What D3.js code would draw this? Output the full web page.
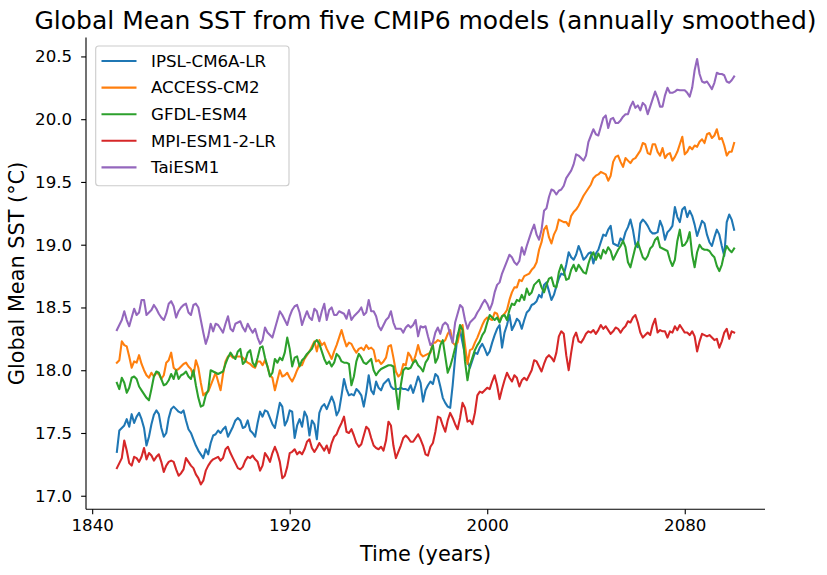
<!DOCTYPE html>
<html>
<head>
<meta charset="utf-8">
<script src="https://cdn.jsdelivr.net/npm/d3@7"></script>
<style>
  html, body { margin: 0; padding: 0; background: #ffffff; }
  svg { display: block; font-family: "DejaVu Sans", sans-serif; }
</style>
</head>
<body>
<svg id="chart" width="827" height="575"></svg>
<script>
// ---------------- DATA ----------------
const firstYear = 1850;
const lastYear = 2100;
const models = ["IPSL-CM6A-LR", "ACCESS-CM2", "GFDL-ESM4", "MPI-ESM1-2-LR", "TaiESM1"];
const xTickValues = [1840, 1920, 2000, 2080];
const yTickValues = [17.0, 17.5, 18.0, 18.5, 19.0, 19.5, 20.0, 20.5];

const ipsl = [
  17.35,17.52,17.54,17.56,17.61,17.55,17.65,17.58,17.63,17.66,
  17.61,17.54,17.40,17.47,17.57,17.645,17.68,17.65,17.54,17.47,
  17.50,17.62,17.69,17.71,17.69,17.67,17.66,17.68,17.60,17.53,
  17.50,17.45,17.40,17.36,17.33,17.30,17.37,17.33,17.42,17.48,
  17.49,17.52,17.50,17.53,17.55,17.47,17.51,17.55,17.60,17.62,
  17.60,17.54,17.55,17.60,17.52,17.50,17.47,
  17.58,17.67,17.63,
  17.68,17.67,17.62,17.57,17.54,17.64,17.74,17.71,17.56,17.60,
  17.68,17.67,17.46,17.56,17.61,17.55,17.67,17.63,17.48,17.60,
  17.57,17.45,17.66,17.71,17.73,17.69,17.74,17.79,17.74,17.64,
  17.68,17.80,17.93,17.85,17.80,17.81,17.80,17.85,17.83,17.80,
  17.71,17.82,17.96,17.84,17.81,17.91,17.86,17.84,17.89,17.91,
  17.93,17.87,17.85,
  17.85,17.85,17.86,17.85,17.85,17.84,17.88,
  17.82,17.88,17.95,17.90,17.75,17.84,17.88,17.91,17.89,17.97,
  17.95,17.87,17.78,17.74,17.71,17.70,17.88,18.10,18.28,18.32,
  18.22,18.12,18.07,18.02,18.08,18.14,18.13,18.18,18.21,18.17,
  18.12,18.15,18.22,18.28,18.33,18.36,18.18,18.30,18.36,18.44,
  18.32,18.36,18.41,18.39,18.33,18.40,18.46,18.48,18.52,18.53,
  18.55,18.60,18.58,18.68,18.70,18.63,18.56,18.60,18.67,18.73,
  18.77,18.76,18.84,18.94,18.90,18.88,18.92,18.99,18.94,18.88,
  18.90,18.93,18.94,18.85,18.93,18.96,19.02,19.08,19.07,19.12,
  19.15,19.01,19.00,18.99,19.05,19.03,19.10,19.14,19.20,19.12,
  19.00,18.98,19.17,19.20,19.18,19.15,19.11,19.09,
  19.09,19.10,
  19.19,19.14,19.04,19.10,19.12,19.15,19.30,19.22,19.18,19.28,
  19.30,19.22,19.27,19.23,19.16,19.07,19.13,19.19,19.17,19.08,
  19.02,18.99,19.06,19.12,19.08,18.99,18.91,19.18,19.24,19.20,
  19.12
];

const access = [
  18.06,18.08,18.23,18.20,18.19,18.11,18.02,18.07,18.06,18.12,
  18.05,18.00,17.96,17.94,17.98,17.95,17.98,17.97,17.93,17.96,
  18.06,18.08,18.14,18.02,18.00,18.01,18.03,18.05,18.06,18.03,
  18.01,17.95,18.08,18.02,17.90,17.80,17.82,17.83,17.88,17.93,
  17.98,17.91,17.84,17.97,18.07,18.11,18.12,18.10,18.11,18.11,
  18.11,18.10,18.08,18.06,18.05,18.03,18.02,
  18.07,18.07,18.04,
  18.08,18.03,17.96,17.94,17.84,17.92,18.00,17.95,17.96,17.98,
  17.94,17.91,17.95,18.00,18.04,18.04,18.09,18.12,18.15,18.19,
  18.23,18.15,18.24,18.20,18.22,18.17,18.13,18.09,18.15,18.20,
  18.26,18.32,18.25,18.19,18.22,18.21,18.17,18.14,18.17,18.18,
  18.16,18.20,18.17,18.18,18.16,18.07,18.08,18.05,18.07,18.10,
  18.19,18.20,18.10,
  17.99,17.95,17.97,18.05,18.04,18.14,18.11,
  18.06,18.12,18.20,18.13,18.11,18.12,18.13,18.14,18.22,18.22,
  18.24,18.23,18.22,18.24,18.29,18.32,18.22,18.20,18.22,18.32,
  18.36,18.20,18.05,18.16,18.17,18.22,18.26,18.31,18.36,18.40,
  18.42,18.41,18.40,18.46,18.45,18.39,18.43,18.45,18.48,18.56,
  18.62,18.66,18.66,18.72,18.71,18.75,18.76,18.77,18.80,18.82,
  18.86,18.96,19.02,19.12,19.15,19.06,19.01,19.08,19.12,19.20,
  19.19,19.18,19.18,19.15,19.23,19.26,19.28,19.31,19.35,19.39,
  19.42,19.45,19.48,19.53,19.55,19.56,19.58,19.57,19.56,19.51,
  19.55,19.66,19.70,19.71,19.66,19.62,19.69,19.67,19.65,19.68,
  19.69,19.72,19.75,19.81,19.80,19.73,19.72,19.80,
  19.80,19.74,
  19.71,19.77,19.69,19.72,19.73,19.67,19.70,19.74,19.80,19.86,
  19.72,19.74,19.78,19.76,19.79,19.78,19.82,19.84,19.81,19.88,
  19.89,19.85,19.87,19.92,19.84,19.85,19.79,19.71,19.74,19.74,
  19.81
];

const gfdl = [
  17.90,17.85,17.94,17.90,17.82,17.86,17.94,17.95,17.93,17.87,
  17.84,17.81,17.78,17.76,17.85,17.95,17.99,17.98,17.93,17.88,
  17.89,17.92,17.97,17.93,18.00,17.93,17.96,17.97,17.99,17.95,
  17.93,18.00,17.88,17.78,17.71,17.72,17.80,17.84,18.00,17.99,
  17.98,17.97,17.98,17.99,18.05,18.10,18.14,18.11,18.09,18.15,
  18.17,18.05,18.07,18.14,18.16,18.06,18.03,
  18.10,18.18,18.19,
  18.10,18.03,17.95,17.98,18.09,18.06,18.10,18.08,18.14,18.26,
  18.17,18.03,18.10,18.11,18.03,18.08,18.10,18.13,18.15,18.17,
  18.22,18.24,18.21,18.15,18.09,18.05,18.07,18.03,18.06,18.13,
  18.11,18.07,18.06,18.06,18.05,17.88,17.95,18.07,18.13,18.10,
  18.06,18.05,18.07,18.09,18.00,17.96,17.99,18.01,18.02,18.03,
  18.04,18.04,18.03,
  17.85,17.69,17.88,18.00,18.02,18.01,18.02,
  18.06,18.08,18.04,18.02,17.99,18.06,18.09,18.15,18.20,18.06,
  18.10,18.20,18.24,18.11,17.98,18.03,18.10,18.18,18.27,18.36,
  18.32,18.07,17.92,18.04,18.10,18.16,18.20,18.23,18.28,18.31,
  18.38,18.44,18.42,18.40,18.42,18.38,18.43,18.44,18.40,18.48,
  18.53,18.52,18.56,18.55,18.60,18.56,18.65,18.60,18.62,18.68,
  18.70,18.72,18.66,18.62,18.68,18.73,18.74,18.67,18.66,18.78,
  18.84,18.79,18.72,18.73,18.80,18.84,18.79,18.84,18.81,18.78,
  18.77,18.85,18.91,18.94,18.88,18.93,18.89,18.96,18.93,18.98,
  18.95,18.88,18.92,18.96,18.99,19.03,18.98,18.86,18.82,18.90,
  18.98,19.02,18.96,18.90,18.88,18.91,18.97,18.99,
  19.04,19.06,
  18.98,18.97,18.96,18.95,18.88,18.83,18.88,19.03,19.12,18.99,
  19.00,19.03,19.10,18.92,18.82,18.94,19.00,18.97,18.96,18.96,
  18.95,18.92,18.90,18.83,18.79,18.84,18.93,18.99,18.96,18.94,
  18.97
];

const mpi = [
  17.22,17.26,17.30,17.44,17.36,17.26,17.24,17.31,17.30,17.27,
  17.31,17.38,17.29,17.34,17.32,17.28,17.31,17.33,17.27,17.19,
  17.24,17.27,17.28,17.27,17.21,17.16,17.18,17.21,17.30,17.27,
  17.24,17.22,17.17,17.14,17.09,17.12,17.20,17.24,17.27,17.29,
  17.30,17.31,17.28,17.30,17.37,17.39,17.34,17.30,17.26,17.22,
  17.21,17.23,17.28,17.31,17.30,17.32,17.29,
  17.27,17.20,17.24,
  17.34,17.31,17.27,17.34,17.39,17.34,17.27,17.14,17.16,17.23,
  17.34,17.35,17.37,17.33,17.35,17.33,17.37,17.43,17.45,17.38,
  17.35,17.38,17.42,17.39,17.36,17.40,17.34,17.42,17.47,17.49,
  17.54,17.58,17.63,17.51,17.50,17.53,17.48,17.42,17.39,17.41,
  17.48,17.55,17.53,17.46,17.40,17.38,17.37,17.39,17.36,17.44,
  17.59,17.56,17.40,
  17.30,17.35,17.40,17.46,17.48,17.46,17.43,
  17.43,17.46,17.49,17.45,17.40,17.33,17.32,17.39,17.42,17.51,
  17.63,17.62,17.56,17.51,17.60,17.66,17.62,17.57,17.53,17.62,
  17.74,17.70,17.59,17.60,17.57,17.66,17.80,17.83,17.82,17.84,
  17.86,17.85,17.91,17.96,17.88,17.77,17.85,17.92,17.98,17.94,
  17.91,17.96,17.94,17.87,17.92,17.94,17.92,17.96,18.00,18.08,
  18.07,18.03,17.99,18.05,18.10,18.12,18.10,18.07,18.14,18.27,
  18.31,18.29,18.12,18.00,18.14,18.26,18.30,18.23,18.22,18.25,
  18.29,18.31,18.30,18.32,18.29,18.32,18.36,18.33,18.35,18.32,
  18.29,18.31,18.34,18.33,18.30,18.33,18.35,18.39,18.38,18.42,
  18.44,18.38,18.30,18.26,18.28,18.30,18.28,18.36,
  18.41,18.30,
  18.32,18.31,18.31,18.26,18.31,18.30,18.35,18.32,18.36,18.33,
  18.30,18.30,18.28,18.31,18.27,18.15,18.23,18.29,18.28,18.27,
  18.28,18.26,18.24,18.25,18.18,18.23,18.30,18.33,18.25,18.31,
  18.30
];

const taiesm = [
  18.32,18.36,18.40,18.47,18.40,18.35,18.42,18.49,18.44,18.46,
  18.56,18.56,18.44,18.46,18.48,18.52,18.49,18.45,18.42,18.40,
  18.45,18.53,18.55,18.51,18.42,18.47,18.50,18.52,18.53,18.46,
  18.44,18.52,18.53,18.50,18.40,18.30,18.21,18.27,18.37,18.31,
  18.37,18.36,18.33,18.30,18.37,18.43,18.33,18.31,18.37,18.38,
  18.39,18.34,18.31,18.37,18.33,18.30,18.33,
  18.26,18.21,18.24,
  18.34,18.30,18.28,18.26,18.33,18.40,18.47,18.44,18.40,18.36,
  18.43,18.48,18.51,18.52,18.46,18.36,18.42,18.47,18.42,18.40,
  18.49,18.47,18.39,18.47,18.53,18.40,18.48,18.50,18.44,18.44,
  18.47,18.46,18.45,18.41,18.48,18.40,18.43,18.45,18.47,18.50,
  18.44,18.46,18.56,18.47,18.47,18.43,18.35,18.32,18.36,18.40,
  18.42,18.47,18.38,
  18.33,18.33,18.33,18.30,18.34,18.36,18.34,
  18.36,18.40,18.27,18.35,18.34,18.35,18.27,18.20,18.22,18.30,
  18.34,18.29,18.36,18.38,18.36,18.28,18.22,18.38,18.45,18.52,
  18.50,18.40,18.33,18.38,18.40,18.42,18.46,18.49,18.53,18.56,
  18.53,18.48,18.53,18.62,18.68,18.70,18.77,18.82,18.87,18.92,
  18.90,18.86,18.84,18.87,18.98,18.92,18.99,19.05,19.11,19.16,
  19.08,19.04,19.12,19.27,19.29,19.38,19.44,19.43,19.40,19.43,
  19.44,19.47,19.53,19.56,19.59,19.64,19.72,19.71,19.69,19.67,
  19.71,19.82,19.87,19.92,19.88,19.87,19.94,20.01,20.03,19.93,
  20.00,20.01,19.97,19.97,19.99,20.02,20.04,20.04,20.10,20.14,
  20.09,20.11,20.07,20.13,20.11,20.04,20.10,20.16,
  20.22,20.17,
  20.10,20.10,20.19,20.25,20.21,20.21,20.22,20.235,20.23,20.23,
  20.23,20.21,20.18,20.25,20.39,20.48,20.36,20.30,20.29,20.30,
  20.27,20.24,20.29,20.37,20.36,20.36,20.35,20.30,20.29,20.31,
  20.34
];

const seriesValues = [ipsl, access, gfdl, mpi, taiesm];
const colors = ["#1f77b4", "#ff7f0e", "#2ca02c", "#d62728", "#9467bd"];

// ---------------- CHART ----------------
const svg = d3.select("#chart");
const W = 827, H = 575;
const plot = { left: 86, right: 765, top: 37.6, bottom: 509.3 };

const years = d3.range(firstYear, lastYear + 1);
const span = lastYear - firstYear;
const x = d3.scaleLinear()
  .domain([firstYear - 0.05 * span, lastYear + 0.05 * span])
  .range([plot.left, plot.right]);
const y = d3.scaleLinear()
  .domain([16.892, 20.65])
  .range([plot.bottom, plot.top]);

svg.append("rect").attr("width", W).attr("height", H).attr("fill", "#ffffff");

// lines
const line = d3.line().x((d, i) => x(years[i])).y(d => y(d));
seriesValues.forEach((vals, k) => {
  svg.append("path")
    .datum(vals)
    .attr("fill", "none")
    .attr("stroke", colors[k])
    .attr("stroke-width", 2.08)
    .attr("stroke-linejoin", "round")
    .attr("stroke-linecap", "square")
    .attr("d", line);
});

// axes
const tickFont = 16.67;
const xAxis = d3.axisBottom(x).tickValues(xTickValues).tickFormat(d3.format("d"))
  .tickSize(4.86).tickSizeOuter(0).tickPadding(4.9);
const gx = svg.append("g").attr("transform", `translate(0,${plot.bottom})`).call(xAxis);
const yAxis = d3.axisLeft(y).tickValues(yTickValues).tickFormat(d3.format(".1f"))
  .tickSize(4.86).tickSizeOuter(0).tickPadding(9);
const gy = svg.append("g").attr("transform", `translate(${plot.left},0)`).call(yAxis);

[gx, gy].forEach(g => {
  g.select(".domain").attr("stroke", "#000").attr("stroke-width", 1.11);
  g.selectAll(".tick line").attr("stroke", "#000").attr("stroke-width", 1.11);
  g.selectAll(".tick text").attr("fill", "#000")
    .style("font-family", "'DejaVu Sans', sans-serif")
    .style("font-size", tickFont + "px");
});
gx.select(".domain").attr("d", `M${plot.left},0H${plot.right}`);
gy.select(".domain").attr("d", `M0,${plot.bottom}V${plot.top}`);

// title & labels
svg.append("text")
  .attr("x", (plot.left + plot.right) / 2).attr("y", 29.3)
  .attr("text-anchor", "middle")
  .style("font-size", "25px").attr("fill", "#000")
  .text("Global Mean SST from five CMIP6 models (annually smoothed)");

svg.append("text")
  .attr("x", (plot.left + plot.right) / 2).attr("y", 561)
  .attr("text-anchor", "middle")
  .style("font-size", "20.83px").attr("fill", "#000")
  .text("Time (years)");

svg.append("text")
  .attr("transform", `translate(24,${(plot.top + plot.bottom) / 2}) rotate(-90)`)
  .attr("text-anchor", "middle")
  .style("font-size", "20.83px").attr("fill", "#000")
  .text("Global Mean SST (°C)");

// legend
const lg = svg.append("g");
lg.append("rect")
  .attr("x", 95.7).attr("y", 46).attr("width", 193.3).attr("height", 139.7)
  .attr("rx", 3).attr("ry", 3)
  .attr("fill", "#ffffff").attr("fill-opacity", 0.8)
  .attr("stroke", "#cccccc").attr("stroke-width", 1.11);
models.forEach((m, k) => {
  const yy = 61 + k * 26.6;
  lg.append("line")
    .attr("x1", 101.5).attr("x2", 136.5).attr("y1", yy).attr("y2", yy)
    .attr("stroke", colors[k]).attr("stroke-width", 2.08);
  lg.append("text")
    .attr("x", 151).attr("y", yy).attr("dy", "0.35em")
    .style("font-size", "16.67px").attr("fill", "#000")
    .text(m);
});
</script>
</body>
</html>
